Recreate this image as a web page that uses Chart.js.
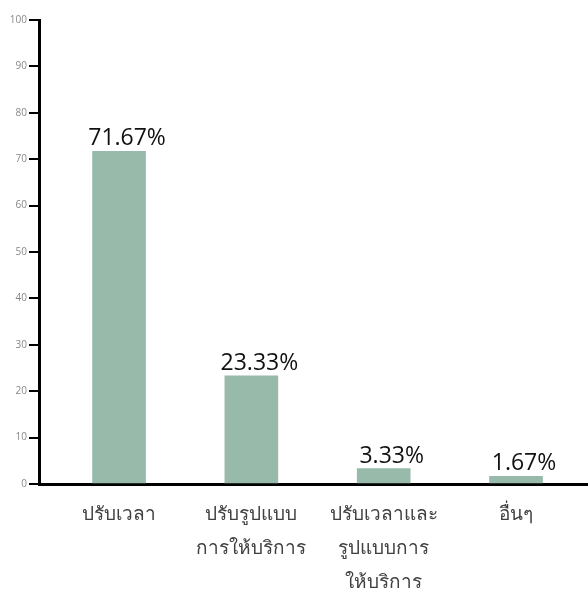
<!DOCTYPE html>
<html>
<head>
<meta charset="utf-8">
<script src="https://cdn.jsdelivr.net/npm/chart.js@4"></script>
<style>
  html, body { margin: 0; padding: 0; background: #fff; }
  #wrap { width: 588px; height: 594px; }
</style>
</head>
<body>
<div id="wrap"><canvas id="c"></canvas></div>
<script>
// Answer categories (multi-line labels) and their shares in percent
const categories = [
  ['ปรับเวลา'],
  ['ปรับรูปแบบ', 'การให้บริการ'],
  ['ปรับเวลาและ', 'รูปแบบการ', 'ให้บริการ'],
  ['อื่นๆ']
];
const values = [71.67, 23.33, 3.33, 1.67];
const yTicks = [0, 10, 20, 30, 40, 50, 60, 70, 80, 90, 100];

const barColor = '#97baab';

// Percentage label above each bar
const valueLabels = {
  id: 'valueLabels',
  afterDatasetsDraw(chart) {
    const ctx = chart.ctx;
    const meta = chart.getDatasetMeta(0);
    ctx.save();
    ctx.font = '23px "Open Sans", sans-serif';
    ctx.fillStyle = '#111';
    ctx.textAlign = 'center';
    ctx.textBaseline = 'alphabetic';
    meta.data.forEach((bar, i) => {
      ctx.fillText(values[i].toFixed(2) + '%', bar.x + 8, bar.y - 6);
    });
    ctx.restore();
  }
};

new Chart(document.getElementById('c'), {
  type: 'bar',
  data: {
    datasets: [{
      data: values.map((v, i) => ({ x: i, y: v })),
      backgroundColor: barColor,
      borderWidth: 0,
      barThickness: 53
    }]
  },
  options: {
    responsive: true,
    maintainAspectRatio: false,
    animation: false,
    layout: { padding: { top: 20, right: 0, bottom: 0, left: 0 } },
    plugins: { legend: { display: false }, tooltip: { enabled: false } },
    scales: {
      x: {
        type: 'linear',
        offset: false,
        min: -0.605,
        max: 3.544,
        z: 1,
        afterBuildTicks: s => { s.ticks = categories.map((_, i) => ({ value: i })); },
        afterFit: s => { s.height = 110; },
        grid: { display: true, drawOnChartArea: false, drawTicks: false, offset: false },
        border: { display: true, width: 3, color: '#000' },
        ticks: {
          autoSkip: false,
          maxRotation: 0,
          padding: 13,
          color: '#404040',
          font: { family: '"Noto Sans", sans-serif', size: 19, lineHeight: 1.8 },
          callback: v => categories[v]
        }
      },
      y: {
        min: 0,
        max: 100,
        z: 1,
        afterBuildTicks: s => { s.ticks = yTicks.map(v => ({ value: v })); },
        afterFit: s => { s.width = 39; },
        grid: { display: true, drawOnChartArea: false, drawTicks: true, tickLength: 10, color: '#000', lineWidth: 2 },
        border: { display: true, width: 3, color: '#000' },
        ticks: {
          padding: 2,
          color: '#888',
          font: { family: '"Open Sans", sans-serif', size: 10 }
        }
      }
    }
  },
  plugins: [valueLabels]
});
</script>
</body>
</html>
